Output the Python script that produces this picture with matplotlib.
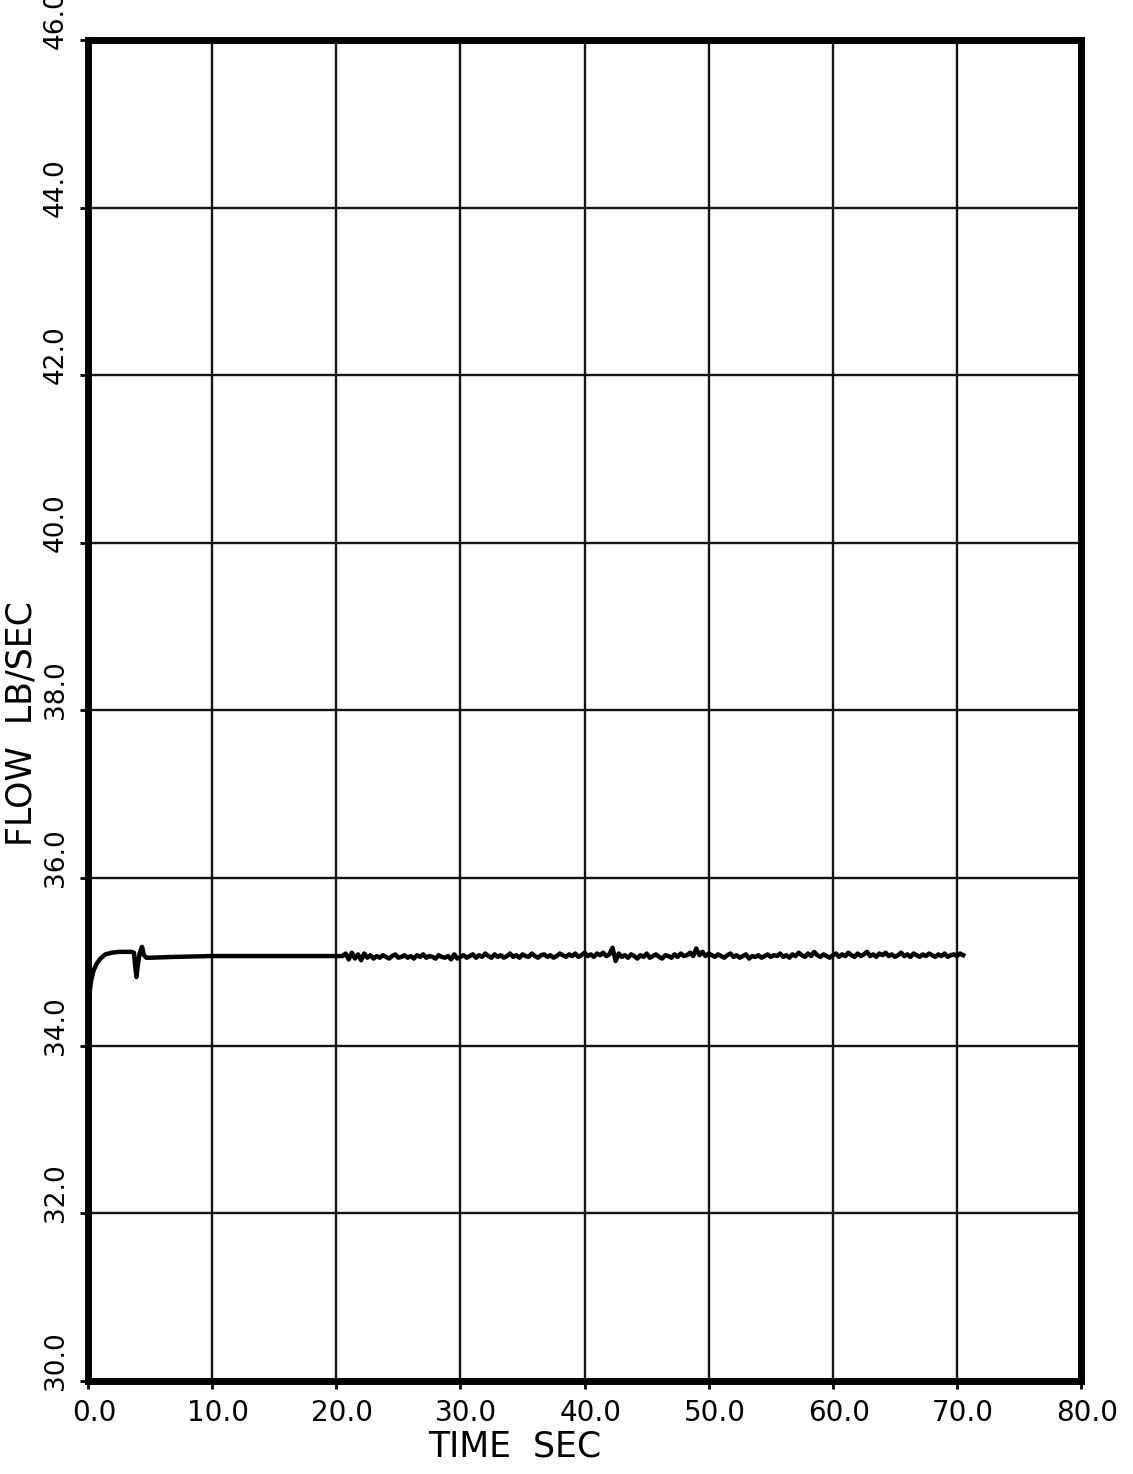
import numpy as np
import matplotlib.pyplot as plt
from matplotlib.transforms import ScaledTranslation

# --- data ---------------------------------------------------------------
# start-up transient (0 .. 20.5 s)
t_start = [0.0, 0.1, 0.25, 0.45, 0.7, 1.0, 1.4, 1.9, 2.5, 3.0, 3.5, 3.7,
           3.8, 3.9, 4.0, 4.15, 4.35, 4.5, 4.7, 5.0, 7.0, 10.0, 15.0, 20.5]
flow_start = [34.30, 34.60, 34.78, 34.90, 34.98, 35.04, 35.09, 35.11, 35.12,
              35.12, 35.12, 35.11, 34.95, 34.82, 34.95, 35.10, 35.18, 35.08,
              35.05, 35.05, 35.06, 35.07, 35.07, 35.07]

# noisy section, one value every 0.25 s from 20.5 s
t0_noisy = 20.5
dt_noisy = 0.25
flow_noisy = [
    35.06, 35.10, 35.03, 35.11, 35.04, 35.09, 35.02, 35.10, 35.05, 35.08, 35.04,
    35.07, 35.05, 35.08, 35.06, 35.04, 35.07, 35.09, 35.05, 35.06, 35.08,
    35.05, 35.07, 35.04, 35.08, 35.06, 35.09, 35.05, 35.07, 35.06, 35.04,
    35.08, 35.06, 35.05, 35.07,
    35.03, 35.09, 35.04, 35.06, 35.08, 35.05,
    35.07, 35.09, 35.05, 35.08, 35.06, 35.10, 35.07, 35.05, 35.09, 35.06,
    35.08, 35.05, 35.07, 35.10, 35.06, 35.08, 35.05, 35.09, 35.07, 35.06,
    35.10, 35.07, 35.05, 35.08, 35.09, 35.06, 35.08, 35.05, 35.07, 35.10,
    35.08, 35.06, 35.09, 35.07, 35.10, 35.06, 35.08, 35.11, 35.07, 35.09,
    35.06, 35.10, 35.08, 35.11, 35.07, 35.09,
    35.17, 35.01, 35.10, 35.06,
    35.08, 35.05, 35.09, 35.07, 35.04, 35.08, 35.06, 35.10, 35.05, 35.07,
    35.09, 35.06, 35.04, 35.08, 35.07, 35.05, 35.09, 35.06, 35.10, 35.07,
    35.08, 35.11, 35.07,
    35.16, 35.08, 35.12,
    35.07, 35.10, 35.08, 35.06, 35.09, 35.07, 35.05, 35.08, 35.10, 35.06,
    35.08, 35.05, 35.07, 35.09, 35.04, 35.07, 35.06, 35.08, 35.05, 35.07,
    35.09, 35.06, 35.08, 35.07, 35.10, 35.06, 35.08, 35.05, 35.09, 35.07,
    35.11, 35.08, 35.06, 35.10, 35.07, 35.12, 35.08, 35.06, 35.09, 35.07,
    35.05, 35.08, 35.10, 35.06, 35.09, 35.07, 35.11, 35.08, 35.06, 35.10,
    35.07, 35.09, 35.12, 35.07, 35.09, 35.06, 35.10, 35.08, 35.11, 35.07,
    35.09, 35.06, 35.08, 35.11, 35.07, 35.09, 35.06, 35.10, 35.08, 35.06,
    35.09, 35.07, 35.10, 35.08, 35.06, 35.09, 35.07, 35.10, 35.06, 35.08,
    35.09, 35.07, 35.10, 35.08,
]

x_ticks = [0, 10, 20, 30, 40, 50, 60, 70, 80]
x_labels = ["0.0", "10.0", "20.0", "30.0", "40.0", "50.0", "60.0", "70.0", "80.0"]
y_ticks = [30, 32, 34, 36, 38, 40, 42, 44, 46]
y_labels = ["30.0", "32.0", "34.0", "36.0", "38.0", "40.0", "42.0", "44.0", "46.0"]

# --- figure ---------------------------------------------------------------
t_noisy = t0_noisy + dt_noisy * np.arange(len(flow_noisy))
t_all = np.concatenate([t_start, t_noisy[1:]])
flow_all = np.concatenate([flow_start, flow_noisy[1:]])

fig = plt.figure(figsize=(11.33, 14.74), dpi=100)
ax = fig.add_axes([0.0777, 0.0631, 0.8765, 0.9098])

ax.plot(t_all, flow_all, color="black", linewidth=3.2, solid_joinstyle="round")

ax.set_xlim(0, 80)
ax.set_ylim(30, 46)
ax.set_xticks(x_ticks)
ax.set_xticklabels(x_labels, fontsize=20)
ax.set_yticks(y_ticks)
ax.set_yticklabels(y_labels, fontsize=19, rotation=90, va="bottom", ha="center")

ax.grid(True, color="#151515", linewidth=1.7)
ax.set_axisbelow(True)
for s in ax.spines.values():
    s.set_linewidth(5)
    s.set_color("black")

ax.tick_params(axis="both", direction="out", length=6, width=2, color="black")
ax.tick_params(axis="x", pad=7)
ax.tick_params(axis="y", pad=17)

# plotter-style label offsets
for lab in ax.get_xticklabels():
    lab.set_transform(lab.get_transform() + ScaledTranslation(0.06, 0, fig.dpi_scale_trans))
for lab in ax.get_yticklabels():
    lab.set_transform(lab.get_transform() + ScaledTranslation(0, -0.09, fig.dpi_scale_trans))

ax.set_xlabel("TIME  SEC", fontsize=25)
ax.xaxis.set_label_coords(0.43, -0.036)
ax.set_ylabel("FLOW  LB/SEC", fontsize=25)
ax.yaxis.set_label_coords(-0.050, 0.49)

fig.savefig("out.png", dpi=100)
